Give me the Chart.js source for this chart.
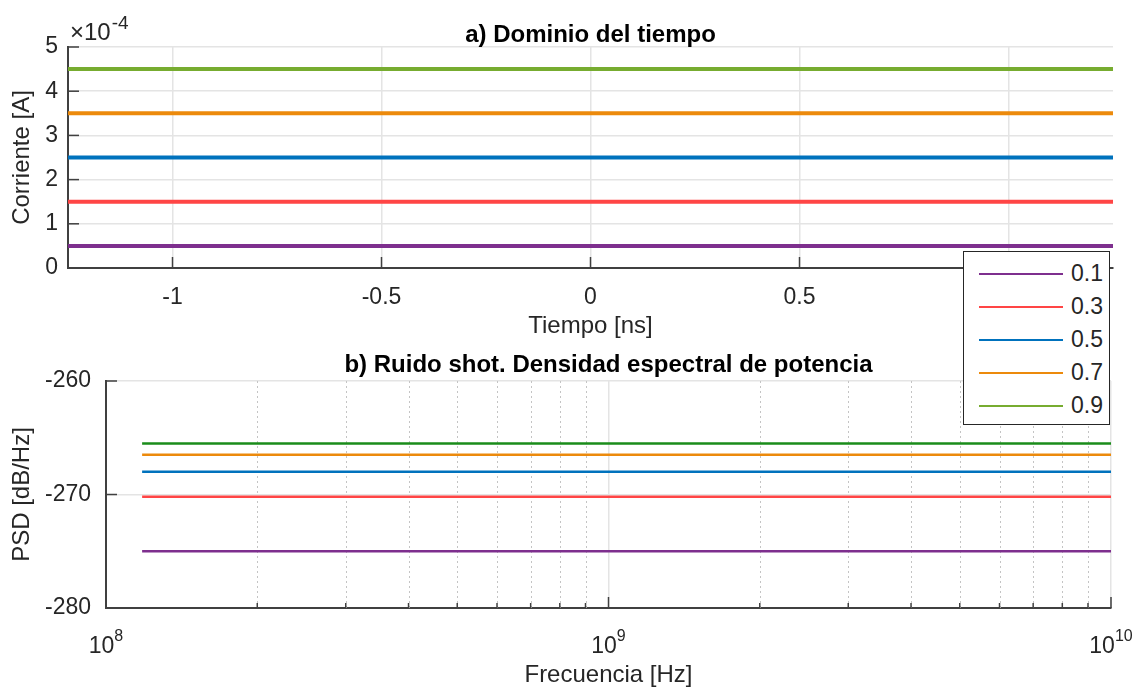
<!DOCTYPE html>
<html>
<head>
<meta charset="utf-8">
<script src="https://cdn.jsdelivr.net/npm/chart.js@4.4.1/dist/chart.umd.min.js"></script>
<style>
  body { margin: 0; background: #fff; font-family: "Liberation Sans", Arial, sans-serif; }
  #wrap { position: relative; width: 1134px; height: 690px; }
  .panel { position: absolute; left: 0; width: 1134px; height: 345px; }
  #top { top: 0; }
  #bottom { top: 345px; }
  #legend {
    position: absolute; left: 963px; top: 251px; width: 147px; height: 174px;
    box-sizing: border-box; border: 1.5px solid #262626; background: #fff;
    padding-top: 5px; font-size: 23px; color: #262626;
  }
  #legend .row { height: 33px; display: flex; align-items: center; }
  #legend .swatch { width: 84px; height: 2px; margin-left: 15px; margin-right: 8px; }
</style>
</head>
<body>
<div id="wrap">
  <div class="panel" id="top"><canvas id="timeChart"></canvas></div>
  <div class="panel" id="bottom"><canvas id="psdChart"></canvas></div>
  <div id="legend"></div>
</div>
<script>
// responsivity values shown in the legend
const levels = ['0.1', '0.3', '0.5', '0.7', '0.9'];
// mean photocurrent of each trace [A]
const currentA = [0.5e-4, 1.5e-4, 2.5e-4, 3.5e-4, 4.5e-4];
// shot noise PSD level of each trace [dB/Hz]
const psdDb = [-275.0, -270.2, -268.0, -266.5, -265.5];
// time window [ns] and frequency span [Hz] of the traces
const timeRange = [-1.25, 1.25];
const freqRange = [1.18e8, 1e10];

const timeTicks = [-1, -0.5, 0, 0.5, 1];
const currentTicks = [0, 1e-4, 2e-4, 3e-4, 4e-4, 5e-4];
const freqTicks = [1e8, 2e8, 3e8, 4e8, 5e8, 6e8, 7e8, 8e8, 9e8,
                   1e9, 2e9, 3e9, 4e9, 5e9, 6e9, 7e9, 8e9, 9e9, 1e10];
const psdTicks = [-280, -270, -260];

const traceColors = ['#7E2F8E', '#FF4545', '#0072BD', '#EC8A0C', '#77AC30'];
const psdColors = ['#7E2F8E', '#FF4545', '#0072BD', '#EC8A0C', '#1A8C1A'];

const FONT = '"Liberation Sans", Arial, sans-serif';
const TEXT = '#262626';
const GRID = '#e4e4e4';
const AXIS = '#404040';

const isDecade = v => Math.abs(Math.log10(v) - Math.round(Math.log10(v))) < 1e-9;

// titles, inward tick marks, exponent and 10^n labels
const axesDeco = {
  id: 'axesDeco',
  beforeDatasetsDraw(chart, args, opts) {
    if (!opts.minorGrid) return;
    const ctx = chart.ctx, a = chart.chartArea, sx = chart.scales.x;
    ctx.save();
    ctx.strokeStyle = '#c4c4c4';
    ctx.lineWidth = 1;
    ctx.setLineDash([2, 3]);
    sx.ticks.forEach(t => {
      if (isDecade(t.value)) return;
      const px = Math.round(sx.getPixelForValue(t.value)) + 0.5;
      ctx.beginPath(); ctx.moveTo(px, a.top); ctx.lineTo(px, a.bottom); ctx.stroke();
    });
    ctx.restore();
  },
  afterDraw(chart, args, opts) {
    const ctx = chart.ctx, a = chart.chartArea;
    const sx = chart.scales.x, sy = chart.scales.y;
    ctx.save();
    // tick marks pointing into the plot
    ctx.strokeStyle = AXIS;
    ctx.lineWidth = 1.5;
    sx.ticks.forEach(t => {
      const px = sx.getPixelForValue(t.value);
      const len = opts.minorGrid && !isDecade(t.value) ? 5 : 11;
      ctx.beginPath(); ctx.moveTo(px, a.bottom); ctx.lineTo(px, a.bottom - len); ctx.stroke();
    });
    sy.ticks.forEach(t => {
      const py = sy.getPixelForValue(t.value);
      ctx.beginPath(); ctx.moveTo(a.left, py); ctx.lineTo(a.left + 11, py); ctx.stroke();
    });
    // panel title
    ctx.fillStyle = '#000';
    ctx.font = 'bold 24px ' + FONT;
    ctx.textAlign = 'center';
    ctx.textBaseline = 'alphabetic';
    ctx.fillText(opts.title, (a.left + a.right) / 2, opts.titleY);
    ctx.fillStyle = TEXT;
    ctx.textAlign = 'left';
    // axis exponent
    if (opts.exponent) {
      ctx.font = '24px ' + FONT;
      const base = '\u00d710';
      ctx.fillText(base, a.left + 2, 40);
      const w = ctx.measureText(base).width;
      ctx.font = '19px ' + FONT;
      ctx.fillText(opts.exponent, a.left + 3 + w, 29);
    }
    // 10^n labels on the log axis
    if (opts.minorGrid) {
      sx.ticks.forEach(t => {
        if (!isDecade(t.value)) return;
        const e = String(Math.round(Math.log10(t.value)));
        ctx.font = '23px ' + FONT;
        const w1 = ctx.measureText('10').width;
        ctx.font = '16px ' + FONT;
        const w2 = ctx.measureText(e).width;
        const x0 = sx.getPixelForValue(t.value) - (w1 + w2) / 2;
        ctx.font = '23px ' + FONT;
        ctx.fillText('10', x0, 308);
        ctx.font = '16px ' + FONT;
        ctx.fillText(e, x0 + w1, 296);
      });
    }
    ctx.restore();
  }
};

function fixedBox(width, height) {
  return s => {
    if (width !== null) s.width = width;
    if (height !== null) s.height = height;
  };
}

const timeChart = new Chart(document.getElementById('timeChart'), {
  type: 'line',
  data: {
    datasets: levels.map((lab, i) => ({
      label: lab,
      data: timeRange.map(t => ({ x: t, y: currentA[i] })),
      borderColor: traceColors[i],
      borderWidth: 4,
      pointRadius: 0
    }))
  },
  options: {
    responsive: true,
    maintainAspectRatio: false,
    animation: false,
    layout: { padding: { top: 47, right: 21, left: 0, bottom: 0 } },
    plugins: {
      legend: { display: false },
      tooltip: { enabled: false },
      axesDeco: { title: 'a) Dominio del tiempo', titleY: 42, exponent: '-4' }
    },
    scales: {
      x: {
        type: 'linear',
        min: timeRange[0], max: timeRange[1],
        afterBuildTicks: s => { s.ticks = timeTicks.map(v => ({ value: v })); },
        afterFit: fixedBox(null, 77),
        grid: { color: GRID, lineWidth: 1.5, drawTicks: false },
        border: { color: AXIS, width: 2 },
        ticks: { color: TEXT, font: { family: FONT, size: 23 }, padding: 16, maxRotation: 0,
                 callback: v => String(v) },
        title: { display: true, text: 'Tiempo [ns]', color: TEXT,
                 font: { family: FONT, size: 24 }, padding: { top: 0, bottom: 4 } }
      },
      y: {
        min: 0, max: 5e-4,
        afterBuildTicks: s => { s.ticks = currentTicks.map(v => ({ value: v })); },
        afterFit: fixedBox(68, null),
        grid: { color: GRID, lineWidth: 1.5, drawTicks: false },
        border: { color: AXIS, width: 2 },
        ticks: { color: TEXT, font: { family: FONT, size: 23 }, padding: 10,
                 callback: v => String(Math.round(v / 1e-4)) },
        title: { display: true, text: 'Corriente [A]', color: TEXT,
                 font: { family: FONT, size: 24 }, padding: { top: 8, bottom: 0 } }
      }
    }
  },
  plugins: [axesDeco]
});

const psdChart = new Chart(document.getElementById('psdChart'), {
  type: 'line',
  data: {
    datasets: levels.map((lab, i) => ({
      label: lab,
      data: freqRange.map(f => ({ x: f, y: psdDb[i] })),
      borderColor: psdColors[i],
      borderWidth: 2.5,
      pointRadius: 0
    }))
  },
  options: {
    responsive: true,
    maintainAspectRatio: false,
    animation: false,
    layout: { padding: { top: 36, right: 23, left: 0, bottom: 0 } },
    plugins: {
      legend: { display: false },
      tooltip: { enabled: false },
      axesDeco: { title: 'b) Ruido shot. Densidad espectral de potencia', titleY: 27, minorGrid: true }
    },
    scales: {
      x: {
        type: 'logarithmic',
        min: 1e8, max: 1e10,
        afterBuildTicks: s => { s.ticks = freqTicks.map(v => ({ value: v })); },
        afterFit: fixedBox(null, 82),
        grid: { color: c => (c.tick && isDecade(c.tick.value)) ? GRID : 'rgba(0,0,0,0)',
                lineWidth: 1.5, drawTicks: false },
        border: { color: AXIS, width: 2 },
        ticks: { display: false },
        title: { display: true, text: 'Frecuencia [Hz]', color: TEXT,
                 font: { family: FONT, size: 24 }, padding: { top: 0, bottom: 0 } }
      },
      y: {
        min: -280, max: -260,
        afterBuildTicks: s => { s.ticks = psdTicks.map(v => ({ value: v })); },
        afterFit: fixedBox(106, null),
        grid: { color: GRID, lineWidth: 1.5, drawTicks: false },
        border: { color: AXIS, width: 2 },
        ticks: { color: TEXT, font: { family: FONT, size: 23 }, padding: 15,
                 callback: v => String(v) },
        title: { display: true, text: 'PSD [dB/Hz]', color: TEXT,
                 font: { family: FONT, size: 24 }, padding: { top: 8, bottom: 0 } }
      }
    }
  },
  plugins: [axesDeco]
});

// legend shared by both panels
const legendBox = document.getElementById('legend');
levels.forEach((lab, i) => {
  const row = document.createElement('div');
  row.className = 'row';
  const sw = document.createElement('span');
  sw.className = 'swatch';
  sw.style.background = traceColors[i];
  const txt = document.createElement('span');
  txt.textContent = lab;
  row.appendChild(sw);
  row.appendChild(txt);
  legendBox.appendChild(row);
});
</script>
</body>
</html>
